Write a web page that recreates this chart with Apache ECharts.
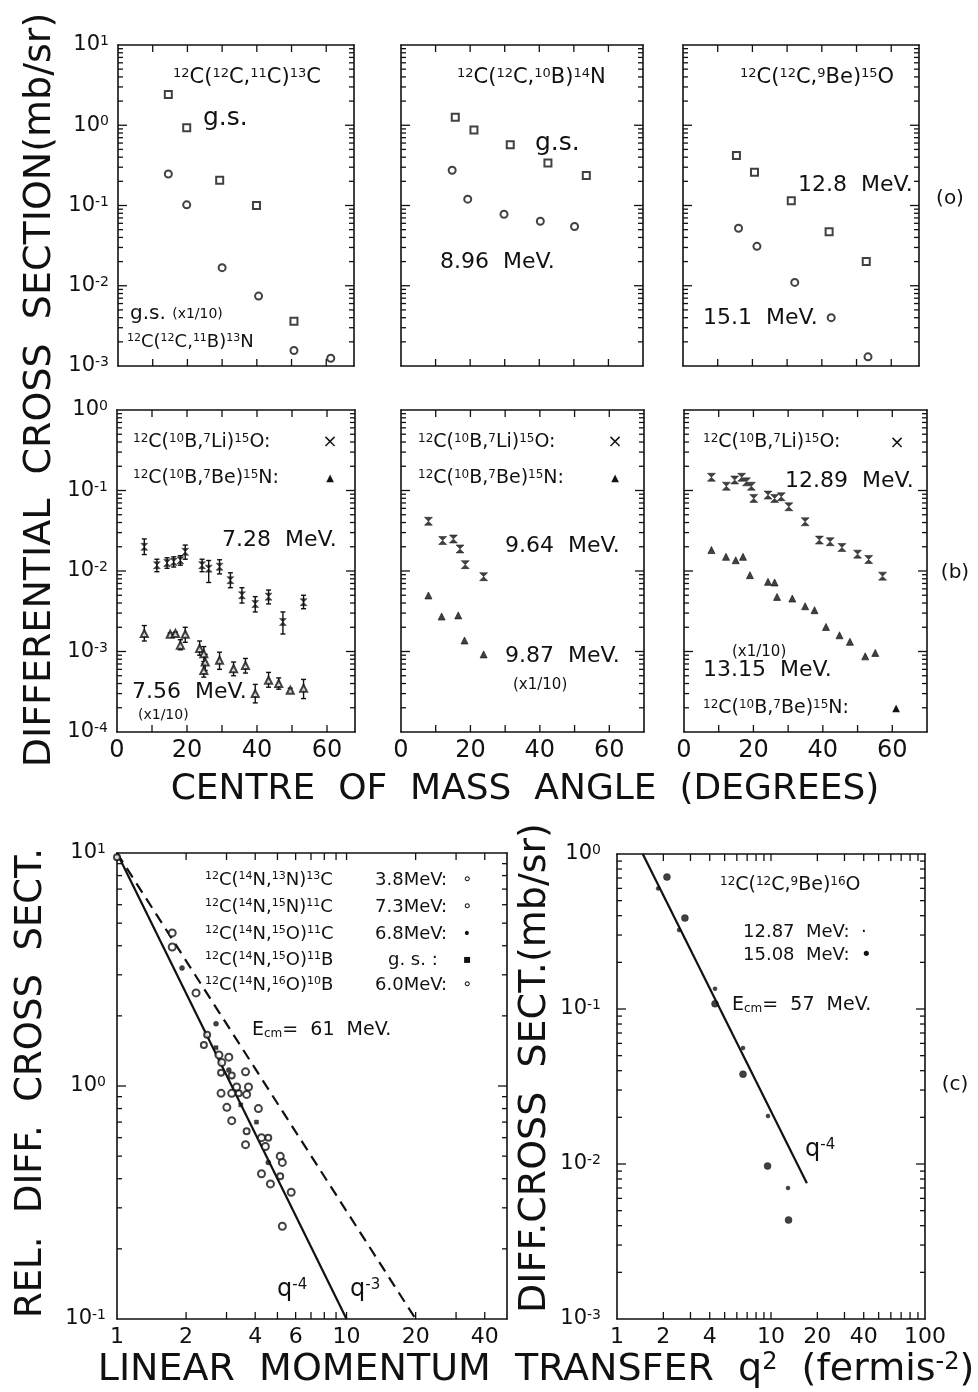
<!DOCTYPE html>
<html>
<head>
<meta charset="utf-8">
<script src="https://cdn.jsdelivr.net/npm/echarts@6/dist/echarts.min.js"></script>
<style>
  html, body { margin: 0; padding: 0; background: #fff; }
  #chart { width: 978px; height: 1392px; }
</style>
</head>
<body>
<div id="chart"></div>
<script>
// ---- values ----
// (a) angle (deg) vs cross section (mb/sr)
const a1_11C_gs = [[14.5, 2.41], [19.8, 0.93], [29.3, 0.206], [39.9, 0.10], [50.7, 0.0036]];
const a1_11B_gs = [[14.5, 0.247], [19.8, 0.102], [30.0, 0.0168], [40.5, 0.00743], [50.7, 0.00156], [61.3, 0.00125]];
const a2_10B_gs = [[15.7, 1.26], [21.1, 0.873], [31.6, 0.571], [42.5, 0.338], [53.6, 0.236]];
const a2_10B_896 = [[14.8, 0.275], [19.3, 0.120], [29.8, 0.0779], [40.3, 0.0637], [50.2, 0.0548]];
const a3_9Be_128 = [[15.4, 0.42], [20.6, 0.26], [31.2, 0.115], [42.1, 0.047], [52.8, 0.020]];
const a3_9Be_151 = [[16.0, 0.052], [21.3, 0.031], [32.2, 0.011], [42.7, 0.0040], [53.3, 0.0013]];

// (b) [angle, sigma, low, high]
const b1_7Li_728 = [
  [7.8, 0.020, 0.016, 0.025], [11.4, 0.0118, 0.0098, 0.0140], [14.3, 0.0126, 0.0108, 0.0146],
  [16.2, 0.0130, 0.0112, 0.0150], [18.1, 0.0136, 0.0118, 0.0155], [19.5, 0.0173, 0.0140, 0.0210],
  [24.3, 0.0118, 0.0098, 0.0140], [26.2, 0.0107, 0.0072, 0.0135], [29.3, 0.0113, 0.0092, 0.0138],
  [32.4, 0.0077, 0.0062, 0.0095], [35.7, 0.0050, 0.0040, 0.0062], [39.5, 0.0039, 0.0031, 0.0048],
  [43.3, 0.0048, 0.0039, 0.0058], [47.4, 0.00233, 0.00165, 0.0031], [53.3, 0.0041, 0.0034, 0.0050]
];
const b1_7Be_756 = [
  [7.8, 0.00167, 0.00135, 0.0021], [15.2, 0.00164, 0.00158, 0.00170], [16.7, 0.00167, 0.00160, 0.00174],
  [18.1, 0.00120, 0.00105, 0.00140], [19.5, 0.00164, 0.00130, 0.0020], [23.6, 0.00109, 0.00090, 0.00135],
  [24.8, 0.00094, 0.00075, 0.00115], [25.2, 0.00074, 0.00058, 0.00092], [24.8, 0.00058, 0.00048, 0.00070],
  [29.3, 0.00078, 0.00060, 0.00098], [33.3, 0.00061, 0.00050, 0.00074], [36.7, 0.00067, 0.00054, 0.00082],
  [39.5, 0.00030, 0.00023, 0.00039], [43.3, 0.00044, 0.00036, 0.00055], [46.2, 0.00040, 0.00034, 0.00047],
  [49.5, 0.00033, 0.00031, 0.00035], [53.3, 0.00035, 0.00026, 0.00045]
];
const b2_7Li_964 = [[7.9, 0.0415], [12.0, 0.0239], [15.1, 0.0250], [17.0, 0.0188], [18.5, 0.0120], [23.8, 0.0085]];
const b2_7Be_987 = [[7.9, 0.00497], [11.7, 0.00272], [16.5, 0.00281], [18.3, 0.00137], [23.8, 0.00092]];
const b3_7Li_1289 = [[7.9, 0.146], [12.2, 0.113], [14.6, 0.135], [16.6, 0.146], [18.0, 0.128], [19.4, 0.113],
  [20.1, 0.0797], [24.2, 0.0877], [26.1, 0.0797], [28.0, 0.0836], [30.2, 0.0628], [34.9, 0.0409],
  [39.0, 0.0242], [42.1, 0.0231], [45.5, 0.0196], [50.0, 0.0162], [53.2, 0.0139], [57.2, 0.00863]];
const b3_7Be_1315 = [[7.9, 0.0182], [12.1, 0.0150], [14.9, 0.0136], [17.0, 0.0150], [19.0, 0.00888], [24.2, 0.00733],
  [26.1, 0.0072], [26.8, 0.00477], [31.2, 0.00455], [34.9, 0.00365], [37.6, 0.00326], [40.9, 0.00202],
  [44.8, 0.00159], [47.8, 0.00132], [52.2, 0.00087], [55.1, 0.00096]];

// (c) q^2 (fm^-2) vs relative / absolute cross section
const c1_38 = [[1.0, 9.6], [2.47, 1.66], [2.39, 1.50], [2.84, 1.14], [3.16, 1.11], [3.39, 0.93], [3.67, 0.64], [4.56, 0.60], [5.14, 0.41]];
const c1_73 = [[1.74, 4.54], [1.74, 3.95], [2.78, 1.36], [3.07, 1.33], [2.86, 1.26], [3.32, 0.99], [3.74, 0.99], [3.16, 0.93], [4.13, 0.80], [4.26, 0.60], [4.43, 0.55], [5.14, 0.50]];
const c1_68 = [[1.92, 3.21], [2.70, 1.85], [3.07, 1.17], [4.56, 0.47]];
const c1_gs = [[2.70, 1.46], [3.46, 0.83], [4.05, 0.70]];
const c1_60 = [[2.21, 2.51], [3.63, 1.15], [2.84, 0.93], [3.67, 0.92], [3.01, 0.81], [3.16, 0.71], [3.63, 0.56], [5.25, 0.47], [4.26, 0.42], [4.66, 0.38], [5.74, 0.35], [5.25, 0.25]];
const c1_q4 = [[1, 10], [10, 0.1]];
const c1_q3 = [[1, 10], [20, 0.1]];
const c2_1287 = [[1.85, 0.60], [2.53, 0.323], [4.33, 0.135], [6.58, 0.056], [9.56, 0.0204], [12.9, 0.0070]];
const c2_1508 = [[2.11, 0.71], [2.76, 0.386], [4.33, 0.108], [6.58, 0.038], [9.5, 0.0097], [13.0, 0.00435]];
const c2_q4 = [[1.47, 1], [17.1, 0.0075]];

// tick values and labels
const angleTicks = [10, 20, 30, 40, 50, 60];
const angleLabels = [0, 20, 40, 60];
const qTicksL = [2, 3, 4, 5, 6, 7, 8, 9, 10, 20, 30, 40];
const qLabelsL = [1, 2, 4, 6, 10, 20, 40];
const qTicksR = [2, 3, 4, 5, 6, 7, 8, 9, 10, 20, 30, 40, 50, 60, 70, 80, 90];
const qLabelsR = [1, 2, 4, 10, 20, 40, 100];

// ---- layout ----
const INK = '#111';
const FF = 'DejaVu Sans';
const box = {
  a1: {left: 118, top: 45, width: 236, height: 321},
  a2: {left: 401, top: 45, width: 242, height: 321},
  a3: {left: 683, top: 45, width: 236, height: 321},
  b1: {left: 117, top: 410, width: 238, height: 322},
  b2: {left: 401, top: 410, width: 243, height: 322},
  b3: {left: 684, top: 410, width: 243, height: 322},
  c1: {left: 117, top: 853, width: 390, height: 466},
  c2: {left: 617, top: 854, width: 308, height: 465}
};

function minorLog(lo, hi) {
  const out = [];
  for (let e = Math.round(Math.log10(lo)); e < Math.round(Math.log10(hi)); e++) {
    for (let m = 2; m < 10; m++) out.push(+(m * Math.pow(10, e)).toPrecision(3));
  }
  return out;
}
function decades(lo, hi) {
  const out = [];
  for (let e = Math.round(Math.log10(lo)); e <= Math.round(Math.log10(hi)); e++) out.push(+Math.pow(10, e).toPrecision(3));
  return out;
}
const powFmt = v => '{b|10}{s|' + Math.round(Math.log10(v)) + '}';
const powRich = {
  b: {fontSize: 21, fontFamily: FF, color: INK},
  s: {fontSize: 14, fontFamily: FF, color: INK, verticalAlign: 'top'}
};

const grid = [], xAxis = [], yAxis = [], series = [];

// inward ticks on both opposite sides of a panel, placed through the axis scale
function tickMarks(ix, dir, vals, ref, len) {
  series.push({
    type: 'custom', xAxisIndex: ix.x, yAxisIndex: ix.y, silent: true, z: 6, clip: false,
    data: vals.map(v => dir === 'x' ? [v, ref] : [ref, v]),
    renderItem: (params, api) => {
      const cs = params.coordSys;
      const p = api.coord([api.value(0), api.value(1)]);
      const st = {stroke: INK, lineWidth: 1.3};
      if (dir === 'x') {
        return {type: 'group', children: [
          {type: 'line', shape: {x1: p[0], y1: cs.y, x2: p[0], y2: cs.y + len}, style: st},
          {type: 'line', shape: {x1: p[0], y1: cs.y + cs.height, x2: p[0], y2: cs.y + cs.height - len}, style: st}
        ]};
      }
      return {type: 'group', children: [
        {type: 'line', shape: {x1: cs.x, y1: p[1], x2: cs.x + len, y2: p[1]}, style: st},
        {type: 'line', shape: {x1: cs.x + cs.width, y1: p[1], x2: cs.x + cs.width - len, y2: p[1]}, style: st}
      ]};
    }
  });
}

function panel(b, c) {
  const gi = grid.length;
  grid.push(Object.assign({containLabel: false}, b));
  const xi = xAxis.length, yi = yAxis.length;
  ['bottom', 'top'].forEach(pos => {
    xAxis.push({
      gridIndex: gi, type: c.xType, position: pos, min: c.xMin, max: c.xMax,
      axisLine: {show: true, onZero: false, lineStyle: {color: INK, width: 1.6}},
      axisTick: {show: false},
      axisLabel: {show: pos === 'bottom' && !!c.xLabels, customValues: c.xLabels || [], color: INK,
        fontFamily: FF, fontSize: c.xFont || 22, margin: 7},
      splitLine: {show: false}
    });
  });
  ['left', 'right'].forEach(pos => {
    yAxis.push({
      gridIndex: gi, type: 'log', logBase: 10, position: pos, min: c.yMin, max: c.yMax,
      axisLine: {show: true, onZero: false, lineStyle: {color: INK, width: 1.6}},
      axisTick: {show: false},
      axisLabel: {show: pos === 'left' && !!c.yLabels, customValues: decades(c.yMin, c.yMax), formatter: powFmt,
        rich: powRich, margin: c.yMargin || 9},
      splitLine: {show: false}
    });
  });
  const ix = {x: xi, y: yi};
  tickMarks(ix, 'x', c.xTicks, c.yMin, 7);
  tickMarks(ix, 'y', minorLog(c.yMin, c.yMax), c.xMin, 5);
  tickMarks(ix, 'y', decades(c.yMin, c.yMax).slice(1, -1), c.xMin, 9);
  return ix;
}

function pts(ix, data, symbol, size, bw) {
  series.push({
    type: 'scatter', xAxisIndex: ix.x, yAxisIndex: ix.y, data: data.map(d => [d[0], d[1]]),
    symbol: symbol, symbolSize: size, silent: true, z: 4,
    itemStyle: {color: INK, borderColor: INK, borderWidth: bw === undefined ? 1.3 : bw}
  });
}
function errBars(ix, data) {
  series.push({
    type: 'custom', xAxisIndex: ix.x, yAxisIndex: ix.y, silent: true, z: 3,
    data: data.map(d => [d[0], d[2], d[3]]),
    renderItem: (params, api) => {
      const lo = api.coord([api.value(0), api.value(1)]);
      const hi = api.coord([api.value(0), api.value(2)]);
      const w = 2.5, st = {stroke: INK, lineWidth: 1.4};
      return {type: 'group', children: [
        {type: 'line', shape: {x1: lo[0], y1: lo[1], x2: hi[0], y2: hi[1]}, style: st},
        {type: 'line', shape: {x1: lo[0] - w, y1: lo[1], x2: lo[0] + w, y2: lo[1]}, style: st},
        {type: 'line', shape: {x1: hi[0] - w, y1: hi[1], x2: hi[0] + w, y2: hi[1]}, style: st}
      ]};
    }
  });
}
function line(ix, data, dashed) {
  series.push({
    type: 'line', xAxisIndex: ix.x, yAxisIndex: ix.y, data: data, symbol: 'none', silent: true, z: 2,
    lineStyle: {color: INK, width: 2.2, type: dashed ? [11, 7] : 'solid'}
  });
}

const HOUR = 'path://M0,0L10,0L0,10L10,10Z';
const angleA = {xType: 'value', xMin: 0, xTicks: angleTicks};

const pa1 = panel(box.a1, Object.assign({xMax: 68, yMin: 1e-3, yMax: 10, yLabels: true}, angleA));
const pa2 = panel(box.a2, Object.assign({xMax: 70, yMin: 1e-3, yMax: 10}, angleA));
const pa3 = panel(box.a3, Object.assign({xMax: 68, yMin: 1e-3, yMax: 10}, angleA));
const pb1 = panel(box.b1, Object.assign({xMax: 68, yMin: 1e-4, yMax: 1, yLabels: true, xLabels: angleLabels, xFont: 24}, angleA));
const pb2 = panel(box.b2, Object.assign({xMax: 70, yMin: 1e-4, yMax: 1, xLabels: angleLabels, xFont: 24}, angleA));
const pb3 = panel(box.b3, Object.assign({xMax: 70, yMin: 1e-4, yMax: 1, xLabels: angleLabels, xFont: 24}, angleA));
const pc1 = panel(box.c1, {xType: 'log', xMin: 1, xMax: 50, xTicks: qTicksL, xLabels: qLabelsL, xFont: 22, yMin: 0.1, yMax: 10, yLabels: true, yMargin: 11});
const pc2 = panel(box.c2, {xType: 'log', xMin: 1, xMax: 100, xTicks: qTicksR, xLabels: qLabelsR, xFont: 22, yMin: 1e-3, yMax: 1, yLabels: true, yMargin: 16});

pts(pa1, a1_11C_gs, 'emptyRect', 7, 2.6);
pts(pa1, a1_11B_gs, 'emptyCircle', 7, 2.6);
pts(pa2, a2_10B_gs, 'emptyRect', 7, 2.6);
pts(pa2, a2_10B_896, 'emptyCircle', 7, 2.6);
pts(pa3, a3_9Be_128, 'emptyRect', 7, 2.6);
pts(pa3, a3_9Be_151, 'emptyCircle', 7, 2.6);

errBars(pb1, b1_7Li_728);
errBars(pb1, b1_7Be_756);
pts(pb1, b1_7Li_728, HOUR, 7, 0.5);
pts(pb1, b1_7Be_756, 'emptyTriangle', 7, 1.8);
pts(pb2, b2_7Li_964, HOUR, 8, 0.6);
pts(pb2, b2_7Be_987, 'triangle', 7, 0.8);
pts(pb3, b3_7Li_1289, HOUR, 8, 0.6);
pts(pb3, b3_7Be_1315, 'triangle', 7, 0.8);

line(pc1, c1_q4, false);
line(pc1, c1_q3, true);
pts(pc1, c1_38, 'emptyCircle', 6, 1.6);
pts(pc1, c1_73, 'emptyCircle', 7, 1.8);
pts(pc1, c1_68, 'circle', 5, 0.5);
pts(pc1, c1_gs, 'rect', 4, 0.5);
pts(pc1, c1_60, 'emptyCircle', 7, 1.8);

line(pc2, c2_q4, false);
pts(pc2, c2_1287, 'circle', 4, 0.5);
pts(pc2, c2_1508, 'circle', 7, 0.5);

// ---- text ----
function rich(size) {
  return {
    s: {fontSize: Math.round(size * 0.62), fontFamily: FF, fill: INK, verticalAlign: 'top'},
    d: {fontSize: Math.round(size * 0.62), fontFamily: FF, fill: INK, verticalAlign: 'bottom'},
    m: {fontSize: Math.round(size * 0.72), fontFamily: FF, fill: INK}
  };
}
function T(x, y, text, size, opt) {
  opt = opt || {};
  return {
    type: 'text', x: x, y: y, rotation: opt.rot || 0, silent: true, z: 10,
    style: {text: text, fontFamily: FF, fontSize: size, fill: INK, align: opt.align || 'left',
      verticalAlign: 'middle', rich: rich(size)}
  };
}
const R90 = Math.PI / 2;
const Li = '{s|12}C({s|10}B,{s|7}Li){s|15}O:';
const Be = '{s|12}C({s|10}B,{s|7}Be){s|15}N:';

const texts = [
  // axis titles
  T(40, 390, 'DIFFERENTIAL  CROSS  SECTION(mb/sr)', 38, {rot: R90, align: 'center'}),
  T(525, 790, 'CENTRE  OF  MASS  ANGLE  (DEGREES)', 36, {align: 'center'}),
  T(31, 1083, 'REL.  DIFF.  CROSS  SECT.', 37, {rot: R90, align: 'center'}),
  T(535, 1068, 'DIFF.CROSS  SECT.(mb/sr)', 38, {rot: R90, align: 'center'}),
  T(536, 1370, 'LINEAR  MOMENTUM  TRANSFER  q{s|2}  (fermis{s|-2})', 38, {align: 'center'}),
  T(950, 199, '(o)', 20, {align: 'center'}),
  T(955, 573, '(b)', 20, {align: 'center'}),
  T(955, 1085, '(c)', 20, {align: 'center'}),
  // (a)
  T(173, 78, '{s|12}C({s|12}C,{s|11}C){s|13}C', 21),
  T(203, 118, 'g.s.', 25),
  T(130, 314, 'g.s. {m|(x1/10)}', 20),
  T(127, 342, '{s|12}C({s|12}C,{s|11}B){s|13}N', 18),
  T(457, 78, '{s|12}C({s|12}C,{s|10}B){s|14}N', 21),
  T(535, 143, 'g.s.', 25),
  T(440, 262, '8.96  MeV.', 22),
  T(740, 78, '{s|12}C({s|12}C,{s|9}Be){s|15}O', 21),
  T(798, 185, '12.8  MeV.', 22),
  T(703, 318, '15.1  MeV.', 22),
  // (b)
  T(133, 442, Li, 19), T(330, 442, '×', 18, {align: 'center'}),
  T(133, 478, Be, 19), T(330, 478, '▲', 10, {align: 'center'}),
  T(222, 540, '7.28  MeV.', 22),
  T(132, 692, '7.56  MeV.', 22),
  T(138, 715, '(x1/10)', 14),
  T(418, 442, Li, 19), T(615, 442, '×', 18, {align: 'center'}),
  T(418, 478, Be, 19), T(615, 478, '▲', 10, {align: 'center'}),
  T(505, 546, '9.64  MeV.', 22),
  T(505, 656, '9.87  MeV.', 22),
  T(513, 685, '(x1/10)', 15),
  T(703, 442, Li, 19), T(897, 443, '×', 18, {align: 'center'}),
  T(785, 481, '12.89  MeV.', 22),
  T(732, 652, '(x1/10)', 15),
  T(703, 670, '13.15  MeV.', 22),
  T(703, 708, Be, 19), T(896, 708, '▲', 10, {align: 'center'}),
  // (c) left
  T(205, 880, '{s|12}C({s|14}N,{s|13}N){s|13}C', 18), T(375, 880, '3.8MeV:', 18), T(467, 880, '∘', 16, {align: 'center'}),
  T(205, 907, '{s|12}C({s|14}N,{s|15}N){s|11}C', 18), T(375, 907, '7.3MeV:', 18), T(467, 907, '∘', 16, {align: 'center'}),
  T(205, 934, '{s|12}C({s|14}N,{s|15}O){s|11}C', 18), T(375, 934, '6.8MeV:', 18), T(467, 934, '•', 14, {align: 'center'}),
  T(205, 960, '{s|12}C({s|14}N,{s|15}O){s|11}B', 18), T(388, 960, 'g. s. :', 18), T(467, 960, '▪', 12, {align: 'center'}),
  T(205, 985, '{s|12}C({s|14}N,{s|16}O){s|10}B', 18), T(375, 985, '6.0MeV:', 18), T(467, 985, '∘', 16, {align: 'center'}),
  T(252, 1030, 'E{d|cm}=  61  MeV.', 19),
  T(277, 1290, 'q{s|-4}', 24),
  T(350, 1290, 'q{s|-3}', 24),
  // (c) right
  T(720, 885, '{s|12}C({s|12}C,{s|9}Be){s|16}O', 19),
  T(743, 932, '12.87  MeV:  ·', 18),
  T(743, 955, '15.08  MeV:  •', 18),
  T(732, 1005, 'E{d|cm}=  57  MeV.', 19),
  T(805, 1150, 'q{s|-4}', 24)
];

const chart = echarts.init(document.getElementById('chart'), null, {renderer: 'canvas'});
chart.setOption({
  backgroundColor: '#fff',
  animation: false,
  textStyle: {fontFamily: FF, color: INK},
  grid: grid,
  xAxis: xAxis,
  yAxis: yAxis,
  series: series,
  graphic: {elements: texts}
});
</script>
</body>
</html>
